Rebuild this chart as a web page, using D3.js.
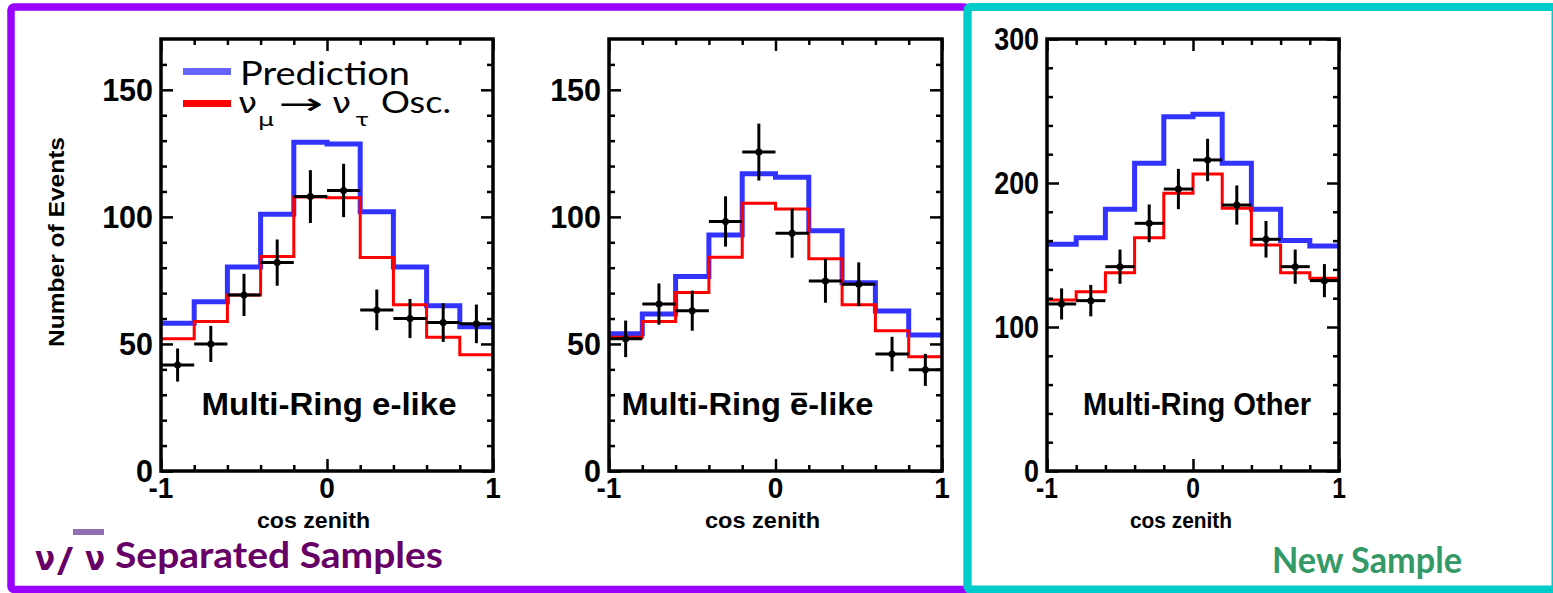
<!DOCTYPE html>
<html><head><meta charset="utf-8">
<script src="https://cdn.jsdelivr.net/npm/d3@7"></script>
<style>body{margin:0;background:#fff;overflow:hidden} svg{display:block}</style>
</head><body><svg id="c" width="1553" height="593"></svg>
<script>
// ---------- data ----------
const binCenters = [-0.9,-0.7,-0.5,-0.3,-0.1,0.1,0.3,0.5,0.7,0.9];
const binHalfWidth = 0.1;
const xMajorTicks = [-1, 0, 1];
const xTickLabels = ["-1", "0", "1"];
const xMinorTicks = [-0.8,-0.6,-0.4,-0.2,0.2,0.4,0.6,0.8];

const eLikePred = [58.1, 66.6, 80.3, 101, 129.4, 128.7, 102, 80.3, 65, 56.8];
const eLikeOsc  = [52, 58.8, 69.3, 84.4, 107.8, 107.5, 84, 65.4, 52.6, 45.7];
const eLikeData = [41.7, 50, 69.3, 82, 108, 110.4, 63.4, 60, 58.4, 57.9];
const eLikeErr  = [6.5, 7.1, 8.3, 9.1, 10.4, 10.5, 8, 7.7, 7.6, 7.6];

const ebarPred = [54, 61.8, 76.5, 92.9, 117, 115.6, 94.5, 74.1, 63, 53.5];
const ebarOsc  = [52.6, 58.8, 70.2, 84.1, 105.4, 103.1, 83.5, 65.4, 55.2, 45];
const ebarData = [52, 65.7, 63.1, 98.2, 125.5, 93.6, 74.8, 73.5, 46, 39.8];
const ebarErr  = [7.2, 8.1, 7.9, 9.9, 11.2, 9.7, 8.6, 8.6, 6.8, 6.3];

const otherPred = [157.4, 162, 181.7, 213.7, 246, 247.7, 213.7, 181.7, 160, 156.3];
const otherOsc  = [118.8, 124.5, 137.7, 162, 192.8, 206.3, 182.4, 157, 137.7, 133.8];
const otherData = [116, 118.3, 141.9, 172, 195.8, 216, 184.7, 160.9, 141.9, 132.2];
const otherErr  = [10.8, 10.9, 11.9, 13.1, 14, 14.7, 13.6, 12.7, 11.9, 11.5];

const yMajorTicksSmall = [0, 50, 100, 150];
const yMinorTicksSmall = [10,20,30,40,60,70,80,90,110,120,130,140,160];
const yMajorTicksLarge = [0, 100, 200, 300];
const yMinorTicksLarge = [20,40,60,80,120,140,160,180,220,240,260,280];

const titles = ["Multi-Ring e-like", "Multi-Ring e-like", "Multi-Ring Other"];
const legendLabels = ["Prediction", "Osc."];

// ---------- layout ----------
const svg = d3.select("#c");
const panels = [
  {pred:eLikePred, osc:eLikeOsc, data:eLikeData, err:eLikeErr, yMax:170, major:yMajorTicksSmall, minor:yMinorTicksSmall,
   x0:161, x1:493, sx:1, title:titles[0], tx:329, tw:255, cx:313.5, cw:113, ylabel:true},
  {pred:ebarPred, osc:ebarOsc, data:ebarData, err:ebarErr, yMax:170, major:yMajorTicksSmall, minor:yMinorTicksSmall,
   x0:609, x1:942, sx:1, title:titles[1], tx:747.5, tw:252, cx:762.5, cw:115, bar:11},
  {pred:otherPred, osc:otherOsc, data:otherData, err:otherErr, yMax:300, major:yMajorTicksLarge, minor:yMinorTicksLarge,
   x0:1047, x1:1339, sx:0.88, title:titles[2], tx:1197, tw:228, cx:1181, cw:102}
];
const Y0 = 471, Y1 = 39;
const axisFont = "'Liberation Sans', Arial, Helvetica, sans-serif";

panels.forEach((p, pi) => {
  const x = d3.scaleLinear().domain([-1, 1]).range([p.x0, p.x1]);
  const y = d3.scaleLinear().domain([0, p.yMax]).range([Y0, Y1]);
  const g = svg.append("g");

  const stepPts = vals => {
    const pts = vals.map((v, i) => [binCenters[i] - binHalfWidth, v]);
    pts.push([binCenters[binCenters.length-1] + binHalfWidth, vals[vals.length-1]]);
    return pts;
  };
  const line = d3.line().x(d => x(d[0])).y(d => y(d[1])).curve(d3.curveStepAfter);
  g.append("path").attr("d", line(stepPts(p.pred))).attr("fill","none")
    .attr("stroke","#3333ff").attr("stroke-width",5);
  g.append("path").attr("d", line(stepPts(p.osc))).attr("fill","none")
    .attr("stroke","#ff0000").attr("stroke-width",3);

  // data points
  const dg = g.append("g").attr("stroke","#000").attr("stroke-width",3);
  p.data.forEach((v, i) => {
    const c = binCenters[i];
    dg.append("line").attr("x1", x(c)).attr("x2", x(c)).attr("y1", y(v - p.err[i])).attr("y2", y(v + p.err[i]));
    dg.append("line").attr("x1", x(c - binHalfWidth)).attr("x2", x(c + binHalfWidth)).attr("y1", y(v)).attr("y2", y(v));
  });
  g.selectAll("circle.pt").data(p.data).enter().append("circle")
    .attr("cx", (d, i) => x(binCenters[i])).attr("cy", d => y(d)).attr("r", 3.5).attr("fill","#000");

  // ticks via axes (inward)
  const addAxis = (ax, tr) => {
    const a = g.append("g").attr("transform", tr).call(ax);
    a.select(".domain").remove();
    a.selectAll("line").attr("stroke","#000").attr("stroke-width",2.5);
    a.selectAll("text").remove();
  };
  addAxis(d3.axisLeft(y).tickValues(p.major).tickSize(-12), `translate(${p.x0},0)`);
  addAxis(d3.axisLeft(y).tickValues(p.minor).tickSize(-6), `translate(${p.x0},0)`);
  addAxis(d3.axisRight(y).tickValues(p.major).tickSize(-12), `translate(${p.x1},0)`);
  addAxis(d3.axisRight(y).tickValues(p.minor).tickSize(-6), `translate(${p.x1},0)`);
  addAxis(d3.axisBottom(x).tickValues(xMajorTicks).tickSize(-12), `translate(0,${Y0})`);
  addAxis(d3.axisBottom(x).tickValues(xMinorTicks).tickSize(-6), `translate(0,${Y0})`);
  addAxis(d3.axisTop(x).tickValues(xMajorTicks).tickSize(-12), `translate(0,${Y1})`);
  addAxis(d3.axisTop(x).tickValues(xMinorTicks).tickSize(-6), `translate(0,${Y1})`);

  // frame
  g.append("rect").attr("x", p.x0).attr("y", Y1).attr("width", p.x1 - p.x0).attr("height", Y0 - Y1)
    .attr("fill","none").attr("stroke","#000").attr("stroke-width",3.5);

  // y tick labels
  p.major.forEach(t => {
    const s = String(t);
    g.append("text").attr("x", p.x0 - 8).attr("y", y(t) + 11).attr("text-anchor","end")
      .attr("font-family", axisFont).attr("font-weight","bold").attr("font-size", 31)
      .attr("textLength", s.length * 0.556 * 30.5 * p.sx).attr("lengthAdjust","spacingAndGlyphs").text(s);
  });
  // x tick labels
  xMajorTicks.forEach((t, i) => {
    const s = xTickLabels[i];
    const w = (s.length === 2 ? 0.889 : 0.556) * 28 * p.sx;
    g.append("text").attr("x", x(t) - w/2).attr("y", 498)
      .attr("font-family", axisFont).attr("font-weight","bold").attr("font-size", 29)
      .attr("textLength", w).attr("lengthAdjust","spacingAndGlyphs").text(s);
  });
  // x axis title
  g.append("text").attr("x", p.cx - p.cw/2).attr("y", 528)
    .attr("font-family", axisFont).attr("font-weight","bold").attr("font-size", 22)
    .attr("textLength", p.cw).attr("lengthAdjust","spacingAndGlyphs").text("cos zenith");
  // panel title
  const tt = g.append("text").attr("x", p.tx - p.tw/2).attr("y", 415)
    .attr("font-family", axisFont).attr("font-weight","bold").attr("font-size", 31)
    .attr("textLength", p.tw).attr("lengthAdjust","spacingAndGlyphs").text(p.title);
  if (p.bar !== undefined) {
    const ext = tt.node().getExtentOfChar(p.bar);
    g.append("line").attr("x1", ext.x + 1).attr("x2", ext.x + ext.width - 1)
      .attr("y1", 394).attr("y2", 394).attr("stroke","#000").attr("stroke-width",2.5);
  }
  if (p.ylabel) {
    g.append("text").attr("transform","translate(64,242) rotate(-90)").attr("text-anchor","middle")
      .attr("font-family", axisFont).attr("font-weight","bold").attr("font-size", 22)
      .attr("textLength", 210).attr("lengthAdjust","spacingAndGlyphs").text("Number of Events");
  }
});

// ---------- legend ----------
const lg = svg.append("g");
lg.append("line").attr("x1",183).attr("x2",231).attr("y1",71.5).attr("y2",71.5).attr("stroke","#6666ff").attr("stroke-width",7);
lg.append("line").attr("x1",183).attr("x2",231).attr("y1",103.5).attr("y2",103.5).attr("stroke","#ff0000").attr("stroke-width",7);
const slideFont = "Lato, 'Open Sans', 'DejaVu Sans', sans-serif";
lg.append("text").attr("x",240).attr("y",85).attr("font-family",slideFont).attr("font-size",33)
  .attr("textLength",170).attr("lengthAdjust","spacingAndGlyphs").text(legendLabels[0]);
const greekFont = "'DejaVu Sans', sans-serif";
const lt = (txt, xx, yy, fs, w, fam) => lg.append("text").attr("x",xx).attr("y",yy).attr("font-family",fam||greekFont)
  .attr("font-size",fs).attr("textLength",w).attr("lengthAdjust","spacingAndGlyphs").text(txt);
lt("ν", 238, 113, 29, 19);
lt("μ", 258, 126, 18, 16);
lt("→", 278, 114, 30, 45);
lt("ν", 332, 113, 29, 19);
lt("τ", 355, 126, 18, 14);
lt(legendLabels[1], 381, 113, 30, 70, slideFont);

// ---------- slide frames ----------
svg.append("rect").attr("x",11).attr("y",7).attr("width",956.5).attr("height",582.5)
  .attr("fill","none").attr("stroke","#9900ff").attr("stroke-width",7.5).attr("rx",3);
svg.append("rect").attr("x",967.5).attr("y",7).attr("width",588).attr("height",582.5)
  .attr("fill","none").attr("stroke","#00cccc").attr("stroke-width",8).attr("rx",3);

// ---------- slide labels ----------
const purple = "#660066";
const bt = (txt, xx, yy, fs, w, col, fam, wt) => svg.append("text").attr("x",xx).attr("y",yy)
  .attr("font-family",fam||slideFont).attr("font-weight",wt||"bold").attr("font-size",fs).attr("fill",col)
  .attr("textLength",w).attr("lengthAdjust","spacingAndGlyphs").text(txt);
bt("ν", 35, 570, 34, 20, purple, greekFont);
bt("/", 57, 572, 34, 16, purple, greekFont);
svg.append("rect").attr("x",73).attr("y",529).attr("width",31).attr("height",6).attr("fill","#8f6fb0");
bt("ν", 85, 570, 34, 20, purple, greekFont);
bt("Separated Samples", 115, 568, 37, 328, purple);
bt("New Sample", 1272, 573, 37, 190, "#339966");
</script></body></html>
